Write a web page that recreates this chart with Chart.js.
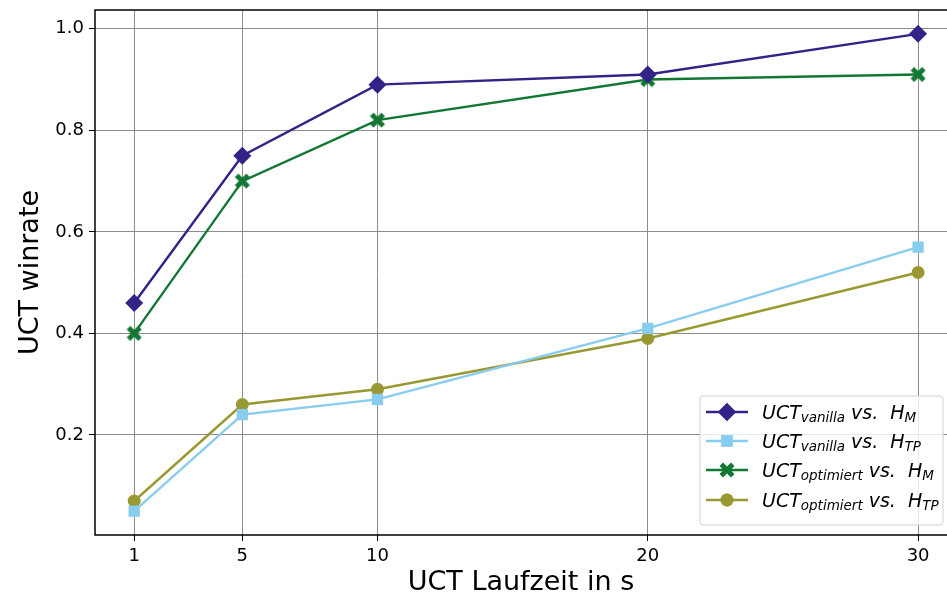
<!DOCTYPE html>
<html lang="de">
<head>
  <meta charset="UTF-8" />
  <title>UCT winrate</title>
  <script src="https://cdn.jsdelivr.net/npm/chart.js"></script>
  <style>
    html, body { margin: 0; padding: 0; background: #fff; overflow: hidden; }
    #wrap { width: 947px; height: 603px; }
  </style>
</head>
<body>
  <div id="wrap"><canvas id="chart" width="947" height="603"></canvas></div>

  <script>
    // Laufzeit in s
    const laufzeit = [1, 5, 10, 20, 30];
    const xTicks = [1, 5, 10, 20, 30];
    const yTicks = [0.2, 0.4, 0.6, 0.8, 1.0];

    // Winrates
    const vanillaHM  = [0.46, 0.75, 0.89, 0.91, 0.99];
    const vanillaHTP = [0.05, 0.24, 0.27, 0.41, 0.57];
    const optHM      = [0.40, 0.70, 0.82, 0.90, 0.91];
    const optHTP     = [0.07, 0.26, 0.29, 0.39, 0.52];

    const FONT = 'DejaVu Sans';

    // gefülltes X als Marker (wie matplotlib 'X')
    function makeX(color, size) {
      const c = document.createElement('canvas');
      c.width = size; c.height = size;
      const g = c.getContext('2d');
      const s = size / 2, a = size * 0.22;
      g.translate(s, s);
      g.fillStyle = color;
      g.beginPath();
      const r = s - 0.5;
      const pts = [[-r, -r + a], [-r + a, -r], [0, -a], [r - a, -r], [r, -r + a], [a, 0],
                   [r, r - a], [r - a, r], [0, a], [-r + a, r], [-r, r - a], [-a, 0]];
      g.moveTo(pts[0][0], pts[0][1]);
      pts.slice(1).forEach(p => g.lineTo(p[0], p[1]));
      g.closePath();
      g.fill();
      return c;
    }

    const series = [
      { sub: 'vanilla',   h: 'M',  data: vanillaHM,  color: '#332288', style: 'rectRot', r: 9 },
      { sub: 'vanilla',   h: 'TP', data: vanillaHTP, color: '#88CCEE', style: 'rect',    r: 8 },
      { sub: 'optimiert', h: 'M',  data: optHM,      color: '#117733', style: makeX('#117733', 16), r: 8 },
      { sub: 'optimiert', h: 'TP', data: optHTP,     color: '#999933', style: 'circle',  r: 6.5 },
    ];

    // Rahmen (rechts abgeschnitten wie im Original) + Legende mit Indizes
    const extras = {
      id: 'extras',
      afterDraw(chart) {
        const ctx = chart.ctx;
        const a = chart.chartArea;
        ctx.save();
        ctx.strokeStyle = '#000';
        ctx.lineWidth = 1.5;
        ctx.beginPath();
        ctx.moveTo(a.right + 2, a.top);
        ctx.lineTo(a.left, a.top);
        ctx.lineTo(a.left, a.bottom);
        ctx.lineTo(a.right + 2, a.bottom);
        ctx.stroke();

        // Legende
        const bx = 700, by = 396, bw = 243, bh = 129;
        ctx.fillStyle = 'rgba(255,255,255,0.8)';
        ctx.strokeStyle = '#d0d0d0';
        ctx.lineWidth = 1;
        ctx.beginPath();
        ctx.roundRect(bx, by, bw, bh, 3);
        ctx.fill();
        ctx.stroke();

        const rowsY = [412, 441, 470, 500];
        series.forEach((s, i) => {
          const y = rowsY[i];
          ctx.strokeStyle = s.color;
          ctx.lineWidth = 2.4;
          ctx.beginPath();
          ctx.moveTo(706, y);
          ctx.lineTo(748, y);
          ctx.stroke();
          ctx.fillStyle = s.color;
          Chart.helpers.drawPoint(ctx, { pointStyle: s.style, radius: s.r, borderWidth: 0 }, 727, y);
          if (typeof s.style === 'string') ctx.fill();

          ctx.fillStyle = '#000';
          ctx.textBaseline = 'alphabetic';
          let x = 762;
          const base = y + 6.5;
          ctx.font = 'italic 19px ' + FONT;
          ctx.fillText('UCT', x, base);
          x += ctx.measureText('UCT').width;
          ctx.font = 'italic 13.5px ' + FONT;
          ctx.fillText(s.sub, x, base + 3);
          x += ctx.measureText(s.sub).width + 6;
          ctx.font = 'italic 19px ' + FONT;
          ctx.fillText('vs.', x, base);
          x += ctx.measureText('vs.').width + 12;
          ctx.fillText('H', x, base);
          x += ctx.measureText('H').width;
          ctx.font = 'italic 13.5px ' + FONT;
          ctx.fillText(s.h, x, base + 3);
        });
        ctx.restore();
      }
    };

    const noPad = ax => { ax.paddingLeft = 0; ax.paddingRight = 0; ax.paddingTop = 0; ax.paddingBottom = 0; };

    new Chart(document.getElementById('chart'), {
      type: 'line',
      data: {
        datasets: series.map(s => ({
          label: s.sub + ' ' + s.h,
          data: laufzeit.map((x, i) => ({ x, y: s.data[i] })),
          borderColor: s.color,
          backgroundColor: s.color,
          borderWidth: 2.4,
          pointStyle: s.style,
          pointRadius: s.r,
          pointBorderWidth: 0,
          tension: 0,
        }))
      },
      options: {
        responsive: false,
        animation: false,
        layout: { autoPadding: false, padding: { top: 10, right: 0, left: 0, bottom: 0 } },
        plugins: { legend: { display: false }, tooltip: { enabled: false } },
        scales: {
          x: {
            type: 'linear',
            min: -0.45, max: 31.07,
            afterBuildTicks: ax => { ax.ticks = xTicks.map(v => ({ value: v })); },
            afterFit: ax => { ax.height = 68; noPad(ax); },
            grid: { color: '#8c8c8c', lineWidth: 1, tickLength: 6, tickColor: '#000', drawTicks: true },
            border: { display: false },
            ticks: { color: '#000', font: { family: FONT, size: 18 }, padding: 5, maxRotation: 0 },
            title: { display: true, text: 'UCT Laufzeit in s', color: '#000', font: { family: FONT, size: 27 }, padding: { top: 3 } }
          },
          y: {
            min: 0.003, max: 1.037,
            afterBuildTicks: ax => { ax.ticks = yTicks.map(v => ({ value: v })); },
            afterFit: ax => { ax.width = 95; noPad(ax); },
            grid: { color: '#8c8c8c', lineWidth: 1, tickLength: 6, tickColor: '#000' },
            border: { display: false },
            ticks: { color: '#000', font: { family: FONT, size: 18 }, padding: 5, callback: v => v.toFixed(1) },
            title: { display: true, text: 'UCT winrate', color: '#000', font: { family: FONT, size: 27 }, padding: { top: 15, bottom: 4 } }
          }
        }
      },
      plugins: [extras]
    });
  </script>
</body>
</html>
